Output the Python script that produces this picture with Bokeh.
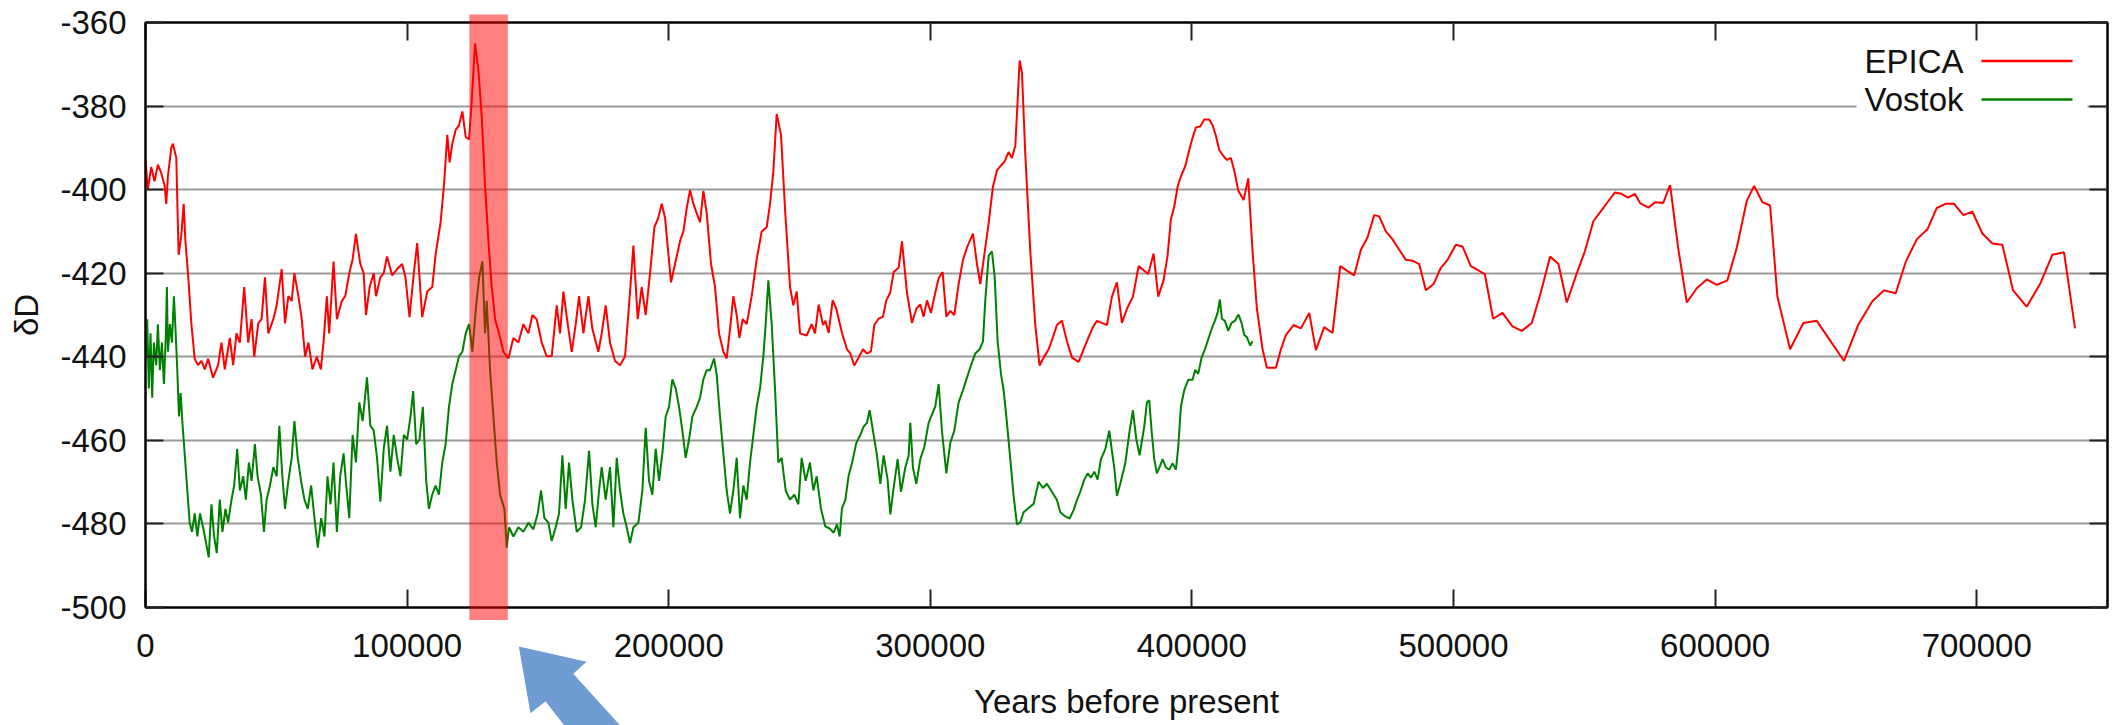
from bokeh.plotting import figure
from bokeh.layouts import column
from bokeh.models import (LinearAxis, BoxAnnotation, PolyAnnotation, Label,
                          FixedTicker, CustomJSTickFormatter, Range1d)
from bokeh.embed import file_html
from bokeh.resources import INLINE

# ---------------- data ----------------
X_LABEL = "Years before present"
Y_LABEL = "δD"
SERIES_NAMES = ["EPICA", "Vostok"]
X_TICKS = [0, 100000, 200000, 300000, 400000, 500000, 600000, 700000]
Y_TICKS = [-500, -480, -460, -440, -420, -400, -380, -360]
X_MIN, X_MAX = 0, 750000
Y_MIN, Y_MAX = -500, -360
BAND_START, BAND_END = 123800, 138500   # highlighted interval (years)

epica_years_a = [0, 895, 2174, 3453, 4732, 6011, 7290, 7930, 8569, 9848,
                 10488, 11767, 12662, 13685, 14581, 15220, 16243, 17522, 18801, 20080,
                 21359, 22638, 23917, 25836, 27754, 29033, 30312, 32231, 33510, 34789,
                 36068, 37731, 39265, 40544, 41568, 43102, 44381, 45660, 46939, 48858,
                 50137, 52055, 53334, 54613, 55892, 56916, 58450, 59729, 61008, 62287,
                 63822, 65485, 67020, 68043, 69322, 70217, 71880, 73159, 75077, 76356,
                 77891, 79170, 80449, 82112, 83391, 84286, 85693, 87228, 88123, 89786,
                 91065, 92344, 94263, 96181, 98099, 99378, 100913, 102576, 103855, 105773,
                 107692, 109610, 110889, 112808, 114087, 115366, 116261, 117284, 118563, 119842,
                 121121, 122400, 123679, 124450]
epica_vals_a = [-393, -400, -394.6, -398, -394, -396, -399, -403.4, -396.8, -390,
                -389, -392.4, -415.6, -411, -403.4, -412, -420, -432, -440.5, -442,
                -441, -443, -440.5, -445, -442, -436.6, -443, -435.5, -442, -434.4,
                -436.6, -423.3, -436.6, -431, -440, -432, -431, -421, -434.4, -431,
                -427.7, -419, -432, -425.5, -426.6, -420, -425.5, -431, -440, -436.6,
                -443, -440, -443, -436.6, -425.5, -434.4, -417.2, -431, -426.6, -425.5,
                -420, -416.7, -410.6, -417.8, -420, -430, -423.3, -420, -425.5, -421,
                -420, -416, -420.5, -419, -417.8, -421, -430.5, -420, -412.8, -430.5,
                -424.4, -423.3, -415.6, -407.8, -399, -386.9, -393.5, -389, -385.7, -384.6,
                -381.3, -387.4, -388, -381.3]

epica_years_b = [125980, 127250, 128530, 129800, 131080, 132350, 133630, 135150, 136810, 138720,
                 140630, 142540, 144450, 146370, 147890, 149550, 151460, 153370, 155280, 157190,
                 158470, 159740, 161400, 162930, 164460, 165730, 167390, 169300, 170820, 173110,
                 174390, 175920, 177570, 179490, 181400, 183310, 184970, 186500, 188150, 189680,
                 191210, 192870, 194520, 196050, 197320, 198600, 200890, 202420, 204330, 205610,
                 206880, 208150, 209430, 210700, 211980, 213250, 214530, 216180, 217710, 219240,
                 220890, 222170, 223440, 224720, 225990, 227010, 228280, 229810, 231720, 233630,
                 235540, 237460, 238730, 240000, 241280, 242930, 244460, 246370, 247650, 248920,
                 250200, 252740, 254650, 255930]
epica_vals_b = [-365, -371.4, -382.4, -399, -412.3, -423.3, -431, -434.4, -438.8, -440.4,
                -435.5, -436.6, -432.2, -434.4, -430, -431, -436.6, -439.9, -439.9, -427.7,
                -434.4, -424.4, -432.2, -438.8, -432.2, -425.5, -434.4, -425.5, -433.3, -438.8,
                -434.4, -427.7, -436.6, -441, -442, -439.9, -426.6, -413.4, -431, -423.3,
                -430, -420, -409, -406.7, -403.4, -406.7, -422.2, -417.8, -412.3, -410,
                -404.5, -400.1, -403.4, -405.6, -407.8, -400.3, -405.6, -417.8, -423.3, -434.4,
                -438.8, -440.4, -433.3, -425.5, -430, -435.5, -431, -432.2, -425.5, -416.7,
                -410, -409, -403.4, -395.7, -381.9, -386.9, -404.5, -423.3, -427.7, -424.4,
                -434.4, -434.9, -432.2, -434.4]

epica_years_c = [257320, 258980, 259870, 261140, 262670, 264070, 266240, 268150, 269420, 270950,
                 272610, 274260, 275790, 277320, 278590, 280250, 281910, 283180, 284710, 285980,
                 287900, 289170, 291080, 292990, 294650, 296180, 297450, 298730, 300250, 301910,
                 303180, 304710, 306120, 307640, 309170, 310830, 312480, 314010, 316310, 317840,
                 319110, 320380, 322300, 323950, 325480, 326750, 328280, 329940, 331210, 332490,
                 333380, 334140, 335040, 336310, 338220, 340130, 341790, 343320, 345230, 346880,
                 348410, 350320, 352230, 354150, 355420, 356690, 358600, 360520, 362170, 363700,
                 365610, 367520, 369430, 371340, 373250, 375170, 377460, 379630]
epica_vals_c = [-427.5, -432.4, -431.4, -434.3, -426.5, -428.5, -434.3, -438.2, -439.2, -442.1,
                -440.2, -438.2, -439.2, -438.7, -432.4, -430.9, -430.4, -426.5, -424.6, -419.7,
                -418.7, -412.4, -424.6, -431.9, -428.5, -427.5, -430.4, -426.5, -429.5, -424.6,
                -421.2, -419.7, -430.4, -429, -430, -422.6, -416.8, -413.9, -410.5, -417.8,
                -422.6, -416.8, -408, -399.3, -395.4, -394.4, -393.4, -391, -392.4, -389.5,
                -378.8, -369.1, -372, -391.5, -414.8, -432.4, -442.1, -440.2, -438.2, -435.3,
                -432.4, -431.4, -436.3, -440.2, -440.7, -441.2, -438.2, -435.3, -432.9, -431.4,
                -431.9, -432.4, -425.6, -422.2, -431.9, -428.5, -425.6, -418.3]

epica_years_d = [383310, 385350, 387130, 389170, 390700, 391970, 393250, 394520, 395800, 397450,
                 398980, 400250, 401530, 403190, 404710, 406620, 407900, 409170, 410450, 412100,
                 413380, 414910, 416180, 417710, 419750, 421530, 423190, 424840, 427010, 428660,
                 430450, 432110, 434020, 435930, 438860, 441660, 444850, 447400, 450580, 453770,
                 456700, 459500, 462050, 464600, 467150, 469690, 471600, 474150, 476700, 479240,
                 481790, 484340, 486890, 489430, 492360, 495170, 497710, 500900, 503440]
epica_vals_d = [-420.2, -415.3, -425.6, -421.7, -415.8, -407.1, -404.1, -399.3, -396.8, -394.4,
                -390.5, -387.6, -385.1, -384.9, -383.2, -383.2, -384.6, -387.1, -390.5, -392,
                -392.9, -392.4, -395.4, -400.2, -402.5, -397.3, -414.8, -428.5, -438.2, -442.6,
                -442.6, -442.6, -438.2, -434.8, -432.4, -433.2, -429.5, -438.4, -432.9, -434.3,
                -418.3, -419.5, -420.5, -414.4, -411.4, -406.1, -406.4, -410, -411.9, -414.4,
                -416.8, -417, -417.8, -424.1, -422.6, -418.7, -416.8, -413.2, -413.6]

epica_years_e = [506620, 509160, 511970, 515150, 518720, 522540, 526110, 529930, 533370, 536940,
                 540120, 543310, 546750, 550190, 553500, 557580, 561650, 564200, 566750, 569290,
                 571330, 574520, 577070, 580130, 582800, 585860, 589170, 592990, 596810, 600640,
                 604710, 608280, 612100, 614910, 618090, 621020, 623820]
epica_vals_e = [-418.3, -419.2, -420.2, -430.9, -429.5, -432.7, -433.8, -431.9, -424.6, -416,
                -417.8, -427, -420.7, -414.8, -407.5, -404.1, -400.7, -401, -401.9, -401,
                -403.2, -404.3, -403, -403.2, -398.9, -413.9, -427, -423.6, -421.5, -422.8,
                -421.7, -413.9, -402.7, -399.1, -403, -403.8, -425.6]

epica_years_f = [628660, 633750, 638850, 644200, 649290, 654650, 660120, 664580, 669040, 672860,
                 677070, 681150, 684710, 688150, 691340, 694900, 698340, 702170, 705990, 709810,
                 713890, 719110, 724210, 728920, 733380, 737580]
epica_vals_f = [-438.2, -431.9, -431.4, -436.3, -441, -432.4, -426.7, -424.1, -424.8, -417.3,
                -411.9, -409.5, -404.4, -403.4, -403.4, -406.1, -405.3, -410.5, -412.9, -413.2,
                -424.1, -428, -422.6, -415.6, -415, -433.2]

vostok_years_a = [0, 640, 1279, 1919, 2558, 3198, 4093, 4732, 5500, 6267,
                  7034, 7802, 8186, 8569, 9337, 10104, 10872, 11383, 12151, 12790,
                  13430, 14069, 14964, 15988, 16883, 17778, 18801, 19825, 20848, 21999,
                  23022, 24173, 25196, 26220, 27243, 28394, 29417, 30568, 31591, 32870,
                  33894, 35045, 36068, 37347, 38370, 39521, 40544, 41823, 42847, 44126,
                  45277, 46300, 47579, 48858, 50137, 51160, 52311, 53334, 54613, 55892,
                  56916, 58195, 59474, 60753, 62032, 63311, 64590, 65869, 67148, 68427,
                  69578, 70729, 71880, 73159, 74438, 75717, 76740, 77891, 79170, 80449,
                  81728, 83007, 84670, 85949, 87228, 88507, 89786, 91065, 92344, 93623,
                  94902, 96181, 97460, 98739, 100018, 101297, 102320, 103471, 104750, 106029,
                  107308, 108331, 109610, 110889, 112168, 113447, 114726, 116005, 117284, 118563,
                  119842, 121121, 122400, 123679]
vostok_vals_a = [-441, -431, -447.6, -434.4, -449.8, -436.6, -442, -432.2, -443.2, -436.6,
                 -446.5, -434.4, -423.3, -438.8, -432.2, -436.6, -425.5, -432.2, -443.2, -454.3,
                 -448.7, -455.4, -463.1, -472, -479.7, -481.9, -477.5, -483, -477.5, -480.8,
                 -484.1, -488, -475.3, -483, -487, -474.2, -481.9, -476.4, -479.7, -474.2,
                 -470.8, -462, -472, -468.6, -474.2, -465.3, -469.7, -460.9, -468.6, -473,
                 -481.9, -474.2, -470.8, -466.4, -468.6, -456.5, -468.6, -476.4, -469.7, -464.2,
                 -455.4, -464.2, -469.7, -474.2, -476.4, -470.8, -478.6, -485.7, -478.6, -483,
                 -468.6, -475.3, -465.3, -481.9, -468.6, -463.1, -470.8, -478.6, -458.7, -465.3,
                 -450.9, -455.4, -444.9, -456.5, -457.6, -464.2, -474.7, -462, -456.5, -467.5,
                 -458.7, -464.2, -468.6, -458.7, -459.8, -454.3, -448.2, -460.9, -459.8, -452,
                 -469.7, -476.4, -473, -470.8, -473, -465.3, -460.9, -452, -446.5, -443.2,
                 -439.9, -438.8, -434.4, -432.2]

vostok_years_b = [124960, 126230, 127510, 128780, 129800, 130440, 131720, 132990, 134270, 135540,
                  137190, 138090, 138980, 140630, 142540, 144450, 146370, 148280, 149930, 151210,
                  152480, 154010, 155280, 156810, 158080, 159360, 160630, 161910, 163180, 164840,
                  166500, 168030, 169560, 170830, 172100, 173380, 174390, 175920, 177570, 178850,
                  180130, 181400, 182670, 183950, 185220, 186500, 188410, 189940, 191210, 192480,
                  193760, 195030, 196310, 197580, 198850, 200130, 201400, 202680, 203950, 205220,
                  206500, 207770, 209050, 210700, 211980, 213250, 214530, 215800, 217330, 218350,
                  219620, 220890, 222170, 223440, 224720, 225990, 227260, 228540, 229810, 231090,
                  232360, 233630, 234910, 236180, 237070, 238090, 239370, 240640, 241910, 243190,
                  244720, 246370, 248030, 249560, 250830, 252360, 254010, 255290, 256560, 258220]
vostok_vals_b = [-438.8, -428.8, -421.1, -417.2, -434.4, -426.6, -443.2, -454.3, -465.3, -473,
                 -476.4, -485.7, -480.8, -483, -480.8, -481.9, -479.7, -481.3, -477.5, -472,
                 -478.6, -479.7, -484.1, -480.8, -477.5, -463.6, -476.4, -465.3, -474.2, -481.9,
                 -480.8, -474.2, -462.5, -475.3, -480.8, -472, -466.4, -474.2, -466.4, -480.8,
                 -464.2, -472, -477.5, -480.8, -484.6, -480.8, -479.7, -472, -457, -469.7,
                 -473, -462, -469.7, -463.1, -454.3, -452, -445.4, -447.6, -452, -457.6,
                 -464.2, -459.8, -454.3, -452, -449.8, -445.4, -443.2, -443.2, -440.4, -444.3,
                 -454.3, -463.1, -472, -477.5, -472, -464.2, -478.6, -470.8, -474.2, -465.3,
                 -458.7, -452, -447.6, -439.9, -432.2, -421.7, -432.2, -447.6, -465.3, -464.2,
                 -472, -474.2, -473, -475.3, -464.2, -469.7, -465.3, -472, -468.6, -476.4]

vostok_years_c = [259870, 261530, 263050, 264330, 265350, 266240, 267520, 268790, 270060, 271720,
                  273250, 274520, 275790, 276810, 278080, 279610, 280890, 282160, 283690, 284710,
                  285980, 287510, 288790, 290440, 291720, 292360, 293370, 294650, 296180, 297710,
                  299360, 300640, 301910, 303180, 304460, 306120, 307640, 309170, 310830, 312480,
                  314010, 315540, 317200, 318850, 320130, 321020, 322300, 323570, 324590, 325740,
                  327010, 328030, 329300, 330580, 331850, 333120, 334400, 335670, 337580, 339500,
                  341410, 343060, 344590, 346500, 348410, 349690, 351600, 353250, 354780, 356060,
                  357330, 358860, 360130, 361410, 362680, 363960, 365230, 366890, 368420, 369430,
                  370320, 371340, 372620, 374530, 376190, 377460, 378730, 380000]
vostok_vals_c = [-480.6, -481.1, -482.1, -480.1, -483, -476.2, -474.3, -468.4, -465.5, -460.6,
                 -458.7, -456.7, -455.8, -452.8, -457.7, -463.6, -470.4, -463.6, -469.4, -477.7,
                 -471.4, -464.5, -472.3, -466.5, -463.6, -455.8, -466.5, -470.4, -464.5, -461.6,
                 -455.8, -453.8, -451.9, -446.5, -457.7, -467.9, -460.6, -457.7, -450.9, -448,
                 -445, -442.1, -439.2, -438.2, -436.3, -426.5, -415.8, -414.8, -420.7, -436.3,
                 -444.1, -448, -455.8, -464.5, -473.3, -480.1, -479.6, -477.2, -476.2, -475.2,
                 -469.9, -471.4, -470.4, -472.3, -474.3, -477.2, -478.2, -478.7, -476.7, -474.3,
                 -472.3, -469.4, -467.9, -468.9, -467.5, -469.4, -464.5, -462.1, -457.7, -462.6,
                 -466.5, -473.3, -470.4, -465.5, -457.7, -452.8, -459.7, -463.6]

vostok_years_d = [381780, 382800, 383700, 384590, 385610, 386620, 387900, 388790, 390060, 391340,
                  392610, 393890, 394780, 395800, 397070, 398600, 400250, 401270, 402420, 403690,
                  404970, 406240, 407520, 408790, 409810, 410700, 411470, 412610, 413890, 415160,
                  416440, 417840, 418980, 420000, 421020, 422300, 423190]
vostok_vals_d = [-456.7, -450.9, -450.4, -457.7, -464.5, -467.9, -466, -464.5, -466.5, -467,
                 -465.5, -467, -461.6, -451.9, -448, -445.5, -445.5, -443.1, -444.1, -440.2,
                 -438.2, -435.8, -433.4, -431.4, -429.5, -426.3, -430.9, -431.4, -433.8, -431.9,
                 -431.4, -429.9, -431.9, -434.8, -435.3, -437.3, -436.3]

epica_years = (epica_years_a + epica_years_b + epica_years_c + epica_years_d
               + epica_years_e + epica_years_f)
epica_vals = (epica_vals_a + epica_vals_b + epica_vals_c + epica_vals_d
              + epica_vals_e + epica_vals_f)
vostok_years = vostok_years_a + vostok_years_b + vostok_years_c + vostok_years_d
vostok_vals = vostok_vals_a + vostok_vals_b + vostok_vals_c + vostok_vals_d
assert len(epica_years) == len(epica_vals), (len(epica_years), len(epica_vals))
assert len(vostok_years) == len(vostok_vals), (len(vostok_years), len(vostok_vals))

# ---------------- styling ----------------
W, H = 2122, 725
LEFT, RIGHT, TOP, BOTTOM = 145, 15, 22, 118
FONT = "Liberation Sans"
TXT = "#111111"
RED = "#ff0000"
GREEN = "#008000"

p = figure(width=W, height=H, output_backend="svg", toolbar_location=None, title=None,
           x_range=Range1d(X_MIN, X_MAX), y_range=Range1d(Y_MIN, Y_MAX),
           x_axis_label=X_LABEL, y_axis_label=Y_LABEL,
           min_border_left=LEFT, min_border_right=RIGHT,
           min_border_top=TOP, min_border_bottom=BOTTOM)
p.background_fill_color = "white"
p.border_fill_color = "white"
p.outline_line_color = "black"
p.outline_line_width = 2

p.xgrid.grid_line_color = None
p.ygrid.ticker = FixedTicker(ticks=Y_TICKS)
p.ygrid.grid_line_color = "#9a9a9a"
p.ygrid.grid_line_width = 2

plain = CustomJSTickFormatter(code="return tick.toString();")
blank = CustomJSTickFormatter(code="return '';")


def style_axis(ax, show_labels):
    ax.axis_line_color = "black"
    ax.axis_line_width = 2
    ax.major_tick_in = 18
    ax.major_tick_out = 0
    ax.major_tick_line_color = "#222222"
    ax.major_tick_line_width = 2
    ax.minor_tick_line_color = None
    if show_labels:
        ax.formatter = plain
        ax.major_label_text_font = FONT
        ax.major_label_text_font_size = "33px"
        ax.major_label_text_color = TXT
        ax.axis_label_text_font = FONT
        ax.axis_label_text_font_size = "33px"
        ax.axis_label_text_font_style = "normal"
        ax.axis_label_text_color = TXT
    else:
        ax.formatter = blank
        ax.major_label_text_font_size = "1px"
        ax.major_label_standoff = 0


xax = p.xaxis[0]
yax = p.yaxis[0]
xax.ticker = FixedTicker(ticks=X_TICKS)
yax.ticker = FixedTicker(ticks=Y_TICKS)
style_axis(xax, True)
style_axis(yax, True)
xax.major_label_standoff = 26
xax.axis_label_standoff = 23
yax.major_label_standoff = 19
yax.axis_label_standoff = 12

top_ax = LinearAxis(ticker=FixedTicker(ticks=X_TICKS))
right_ax = LinearAxis(ticker=FixedTicker(ticks=Y_TICKS))
style_axis(top_ax, False)
style_axis(right_ax, False)
p.add_layout(top_ax, "above")
p.add_layout(right_ax, "right")

# data lines
p.line(epica_years, epica_vals, line_color=RED, line_width=2)
p.line(vostok_years, vostok_vals, line_color=GREEN, line_width=2)

# custom key (text left of the sample line, like the original)
p.add_layout(BoxAnnotation(left=1856, right=2087, top=43, bottom=118,
                           left_units="canvas", right_units="canvas",
                           top_units="canvas", bottom_units="canvas",
                           fill_color="white", fill_alpha=1, line_color=None))
for i, (name, col) in enumerate(zip(SERIES_NAMES, [RED, GREEN])):
    yc = 60.5 + i * 38.5
    p.add_layout(Label(x=1963, y=yc, x_units="canvas", y_units="canvas", text=name,
                       text_align="right", text_baseline="middle",
                       text_font=FONT, text_font_size="33px", text_color=TXT))
    p.add_layout(BoxAnnotation(left=1981, right=2072, top=yc - 1.2, bottom=yc + 1.2,
                               left_units="canvas", right_units="canvas",
                               top_units="canvas", bottom_units="canvas",
                               fill_color=col, fill_alpha=1, line_color=None))

# transparent overlay figure (same horizontal frame) for the highlight band and
# the pointer arrow, which reach outside the main plotting frame
ov = figure(width=W, height=H, output_backend="svg", toolbar_location=None, title=None,
            x_range=p.x_range, y_range=Range1d(H, 0),
            x_axis_type=None, y_axis_type=None,
            min_border_left=LEFT, min_border_right=RIGHT, min_border_top=0, min_border_bottom=0,
            styles={"position": "absolute", "left": "0px", "top": "0px",
                    "pointer-events": "none", "z-index": "5"})
ov.background_fill_alpha = 0
ov.border_fill_alpha = 0
ov.outline_line_color = None
ov.grid.visible = False

ov.add_layout(BoxAnnotation(left=BAND_START, right=BAND_END, top=14, bottom=619.5,
                            top_units="canvas", bottom_units="canvas",
                            fill_color="#ff0000", fill_alpha=0.5, line_color=None))
ov.add_layout(PolyAnnotation(xs=[518.3, 586, 572.7, 627, 570, 545, 530],
                             ys=[646, 661.3, 673.3, 733, 733, 700.7, 712.7],
                             xs_units="canvas", ys_units="canvas",
                             fill_color="#6e9bd1", fill_alpha=1, line_color=None))

root = column(p, ov, spacing=0)
open("out.html", "w").write(file_html(root, INLINE))
